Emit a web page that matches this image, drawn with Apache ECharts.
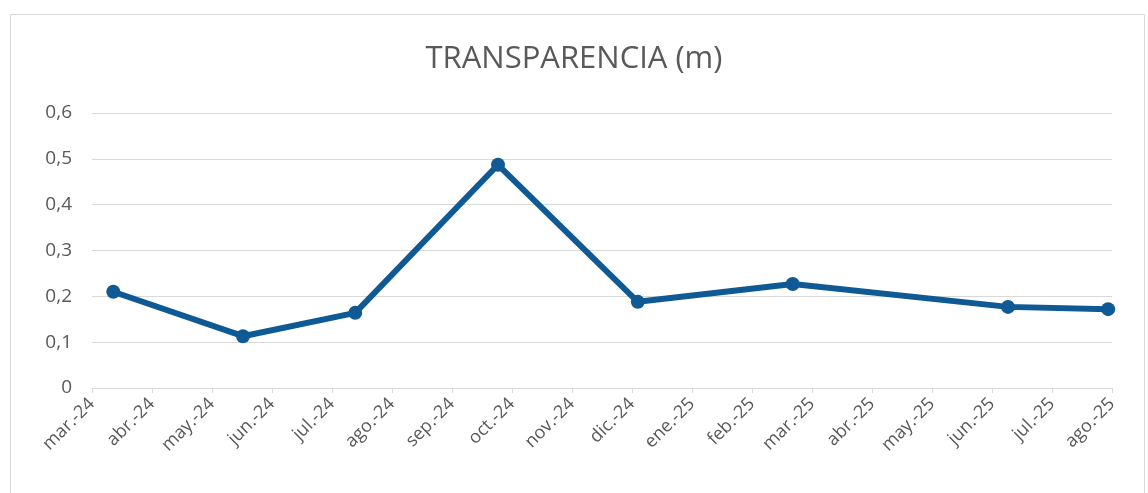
<!DOCTYPE html>
<html>
<head>
<meta charset="utf-8">
<script src="https://cdn.jsdelivr.net/npm/echarts@6/dist/echarts.min.js"></script>
<style>
html,body{margin:0;padding:0;background:#fff;}
#chart{width:1148px;height:493px;}
</style>
</head>
<body>
<div id="chart"></div>
<script>
// Data
var monthLabels = ['mar.-24','abr.-24','may.-24','jun.-24','jul.-24','ago.-24','sep.-24','oct.-24','nov.-24','dic.-24','ene.-25','feb.-25','mar.-25','abr.-25','may.-25','jun.-25','jul.-25','ago.-25'];
var sampleDates = ['2024-03-12','2024-05-17','2024-07-13','2024-09-24','2024-12-04','2025-02-20','2025-06-09','2025-07-30'];
var transparency = [0.21, 0.113, 0.164, 0.487, 0.188, 0.227, 0.177, 0.172];
var yTicks = [0, 0.1, 0.2, 0.3, 0.4, 0.5, 0.6];

// Convert a date into fractional month position on the axis (month 0 = mar.-24)
function monthPos(s) {
  var p = s.split('-');
  var y = +p[0], m = +p[1], d = +p[2];
  var dim = new Date(y, m, 0).getDate();
  return (y - 2024) * 12 + (m - 3) + (d - 1) / dim;
}
var seriesData = sampleDates.map(function (d, i) { return [monthPos(d), transparency[i]]; });

var chart = echarts.init(document.getElementById('chart'));
var txt = '#595959';
chart.setOption({
  backgroundColor: '#fff',
  animation: false,
  graphic: [{
    type: 'rect', left: 8, top: 12,
    shape: { width: 1134, height: 490 },
    style: { fill: 'none', stroke: '#d9d9d9', lineWidth: 1 }
  }],
  title: {
    text: 'TRANSPARENCIA (m)',
    left: 'center', top: 39,
    textStyle: { fontFamily: 'Open Sans', fontSize: 31, fontWeight: 'normal', color: txt }
  },
  grid: { left: 92, right: 36, top: 113, bottom: 105, containLabel: false },
  xAxis: {
    type: 'value',
    min: 0, max: monthLabels.length - 1, interval: 1,
    axisLine: { show: true, lineStyle: { color: '#d9d9d9', width: 1 } },
    axisTick: { show: true, length: 5, lineStyle: { color: '#d9d9d9' } },
    splitLine: { show: false },
    axisLabel: {
      rotate: 45, margin: 13,
      color: txt, fontFamily: 'Open Sans', fontSize: 18,
      showMinLabel: true, showMaxLabel: true,
      formatter: function (v) { return monthLabels[Math.round(v)] || ''; }
    }
  },
  yAxis: {
    type: 'value',
    min: yTicks[0], max: yTicks[yTicks.length - 1], interval: 0.1,
    axisLine: { show: false },
    axisTick: { show: false },
    splitLine: { lineStyle: { color: '#d9d9d9', width: 1 } },
    axisLabel: {
      color: txt, fontFamily: 'Open Sans', fontSize: 19, margin: 20,
      formatter: function (v) { return v === 0 ? '0' : v.toFixed(1).replace('.', ','); }
    }
  },
  series: [{
    type: 'line',
    data: seriesData,
    symbol: 'circle', symbolSize: 14,
    lineStyle: { color: '#0f5a94', width: 6 },
    itemStyle: { color: '#0f5a94' }
  }]
});
</script>
</body>
</html>
